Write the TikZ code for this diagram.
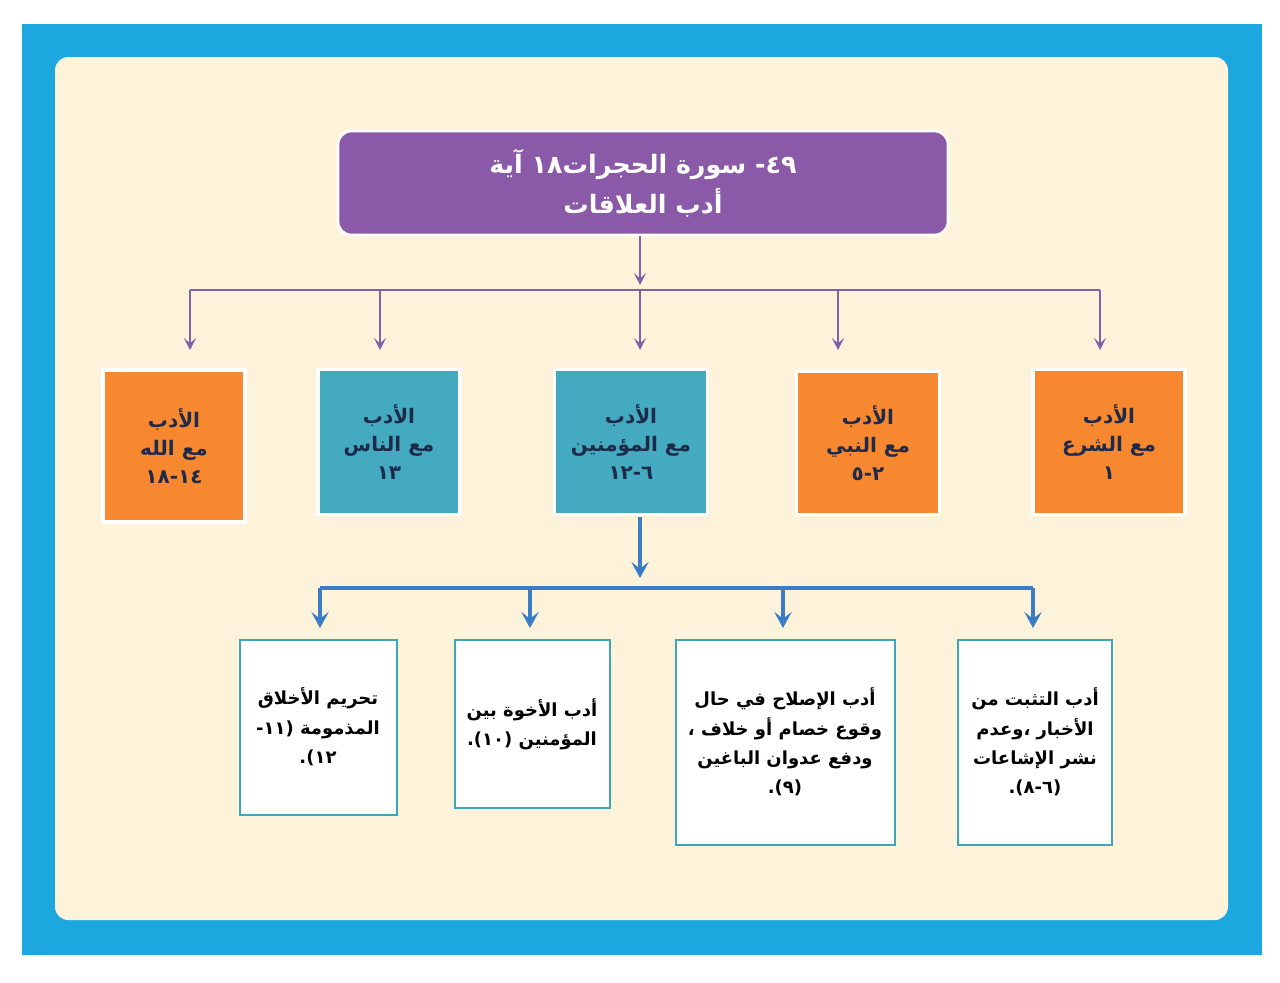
\documentclass[tikz,border=0pt]{standalone}
\usepackage{fontspec}
\TeXXeTstate=1
\newfontfamily\arabicfont[Script=Arabic]{DejaVu Sans}
\usetikzlibrary{arrows.meta}
\definecolor{frame}{HTML}{1CA8DE}
\definecolor{cream}{HTML}{FCF3DA}
\definecolor{purp}{HTML}{8A5AA8}
\definecolor{purl}{HTML}{7D62AA}
\definecolor{orng}{HTML}{F7882F}
\definecolor{teal}{HTML}{44AAC0}
\definecolor{navy}{HTML}{1E2A4A}
\definecolor{blu}{HTML}{3B7CC6}
\definecolor{bord}{HTML}{3FA6B8}
\tikzset{
 x=0.75pt,y=-0.75pt,
 topbox/.style={draw=white,line width=2.5pt,minimum width=#1,inner sep=2pt,align=center,font=\arabicfont\bfseries\fontsize{15}{21}\selectfont,text=navy},
 subbox/.style={draw=bord,line width=1.5pt,fill=white,inner sep=2pt,align=center,font=\arabicfont\bfseries\fontsize{13.5}{22}\selectfont,text=black},
 parr/.style={draw=purl,line width=2pt,-{Stealth[length=9pt,width=9pt,inset=4pt]}},
 barr/.style={draw=blu,line width=3.5pt,-{Stealth[length=12pt,width=13pt,inset=5pt]}}
}
\newcommand{\R}[1]{\beginR #1\endR}
\begin{document}
\begin{tikzpicture}
\useasboundingbox (0,0) rectangle (1280,982);
\fill[white] (0,0) rectangle (1280,982);
\fill[frame] (22,24) rectangle (1262,955);
\fill[cream,rounded corners=10pt] (55,57) rectangle (1228,920);
% title
\node[fill=purp,draw=white,line width=2pt,rounded corners=10pt,minimum width=610*0.75pt,minimum height=104*0.75pt,align=center,text=white,font=\arabicfont\bfseries\fontsize{19}{30}\selectfont] (t) at (643,183) {\R{٤٩- سورة الحجرات١٨ آية}\\\R{أدب العلاقات}};
% row 1
\coordinate (hub) at (640,290);
\node[topbox=142*0.75pt,fill=orng,minimum height=152*0.75pt] (b1) at (174,446) {\R{الأدب}\\\R{مع الله}\\\R{١٤-١٨}};
\node[topbox=142*0.75pt,fill=teal,minimum height=145*0.75pt] (b2) at (389,442) {\R{الأدب}\\\R{مع الناس}\\\R{١٣}};
\node[topbox=153*0.75pt,fill=teal,minimum height=145*0.75pt] (b3) at (631,442) {\R{الأدب}\\\R{مع المؤمنين}\\\R{٦-١٢}};
\node[topbox=143*0.75pt,fill=orng,minimum height=143*0.75pt] (b4) at (868,443) {\R{الأدب}\\\R{مع النبي}\\\R{٢-٥}};
\node[topbox=152*0.75pt,fill=orng,minimum height=145*0.75pt] (b5) at (1109,442) {\R{الأدب}\\\R{مع الشرع}\\\R{١}};
\coordinate (hl) at (190,290);
\coordinate (hr) at (1100,290);
\coordinate (e1) at (190,350);
\coordinate (e2) at (380,350);
\coordinate (e3) at (640,350);
\coordinate (e4) at (838,350);
\coordinate (e5) at (1100,350);
\draw[parr] (t.south -| hub) -- (640,285);
\draw[draw=purl,line width=2pt] (hl) -- (hr);
\foreach \i/\x in {1/190,2/380,3/640,4/838,5/1100}{\draw[parr] (\x,290) -- (e\i);}
% row 2
\node[subbox,minimum width=157*0.75pt,minimum height=175*0.75pt] (s1) at (318,727) {\R{تحريم الأخلاق}\\\R{المذمومة (١١-}\\\R{١٢).}};
\node[subbox,minimum width=155*0.75pt,minimum height=168*0.75pt] (s2) at (532,724) {\R{أدب الأخوة بين}\\\R{المؤمنين (١٠).}};
\node[subbox,minimum width=219*0.75pt,minimum height=205*0.75pt] (s3) at (785,742) {\R{أدب الإصلاح في حال}\\\R{وقوع خصام أو خلاف ،}\\\R{ودفع عدوان الباغين}\\\R{(٩).}};
\node[subbox,minimum width=154*0.75pt,minimum height=205*0.75pt] (s4) at (1035,742) {\R{أدب التثبت من}\\\R{الأخبار ،وعدم}\\\R{نشر الإشاعات}\\\R{(٦-٨).}};
\draw[barr] (640,517) -- (640,578);
\draw[draw=blu,line width=3.5pt] (320,588) -- (1033,588);
\foreach \x in {320,530,783,1033}{\draw[barr] (\x,588) -- (\x,628);}
\end{tikzpicture}
\end{document}
